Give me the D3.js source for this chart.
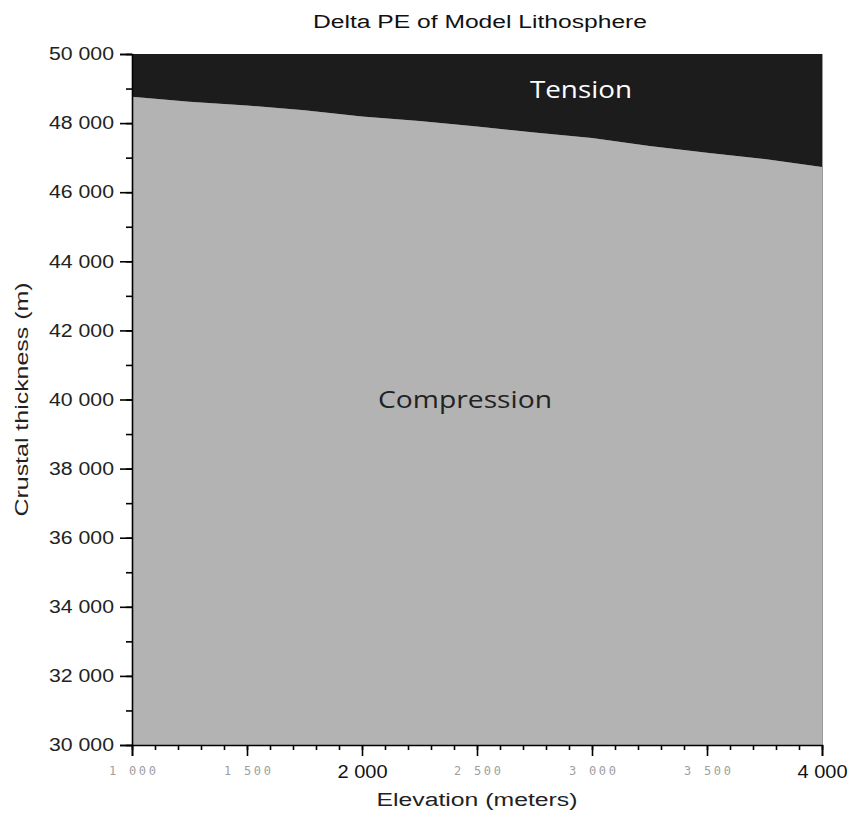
<!DOCTYPE html>
<html><head><meta charset="utf-8">
<script src="https://cdn.jsdelivr.net/npm/d3@7"></script>
<style>body{margin:0;background:#fff}svg{display:block}</style>
</head><body>
<svg id="chart" width="851" height="816"></svg>
<script>
// Data
const elevation = [1000,1250,1500,1750,2000,2250,2500,2750,3000,3250,3500,3750,4000];
const boundaryThickness = [48760,48620,48510,48370,48190,48060,47900,47730,47570,47340,47140,46960,46730];
const yTickValues = [30000,32000,34000,36000,38000,40000,42000,44000,46000,48000,50000];
const xTickValues = [1000,1500,2000,2500,3000,3500,4000];
const xBigTicks = [2000,4000];
const regionLabels = [{text:"Tension", x:2952, y:48730, color:"#ffffff", w:102},{text:"Compression", x:2448, y:39760, color:"#222222", w:174}];

const svg = d3.select("#chart");
const m = {l:132, r:822, t:54, b:745};
const x = d3.scaleLinear().domain([1000,4000]).range([m.l,m.r]);
const y = d3.scaleLinear().domain([30000,50000]).range([m.b,m.t]);
const loc = d3.formatLocale({thousands:"\u00a0", grouping:[3], decimal:".", currency:["",""]});
const fmt = loc.format(",");
const pts = elevation.map((e,i)=>({e, t:boundaryThickness[i]}));
const SANS = "Liberation Sans, Arial, sans-serif";

// Compression area
svg.append("path").datum(pts)
  .attr("fill","#b3b3b3")
  .attr("d", d3.area().x(d=>x(d.e)).y0(y(30000)).y1(d=>y(d.t)));
// Tension area
svg.append("path").datum(pts)
  .attr("fill","#1c1c1c")
  .attr("d", d3.area().x(d=>x(d.e)).y0(y(50000)).y1(d=>y(d.t)));
// right border
svg.append("line").attr("x1",x(4000)+0.5).attr("x2",x(4000)+0.5).attr("y1",y(50000)).attr("y2",y(30000))
  .attr("stroke","#999").attr("stroke-width",1);

// Y axis
const yMinor = svg.append("g").attr("transform",`translate(${m.l},0)`)
  .call(d3.axisLeft(y).tickValues(d3.range(30000,50001,1000)).tickSize(6).tickFormat(""));
yMinor.select(".domain").remove();
const yMajor = svg.append("g").attr("transform",`translate(${m.l},0)`)
  .call(d3.axisLeft(y).tickValues(yTickValues).tickSize(12).tickPadding(6).tickFormat(fmt));
yMajor.selectAll(".tick text").attr("font-family",SANS).attr("font-size",18).attr("fill","#222")
  .attr("textLength",65).attr("lengthAdjust","spacingAndGlyphs");

// X axis
const xMinor = svg.append("g").attr("transform",`translate(0,${m.b})`)
  .call(d3.axisBottom(x).tickValues(d3.range(1000,4001,100)).tickSize(5).tickFormat(""));
xMinor.select(".domain").remove();
const xMajor = svg.append("g").attr("transform",`translate(0,${m.b})`)
  .call(d3.axisBottom(x).tickValues(xTickValues).tickSize(11).tickPadding(9).tickFormat(fmt));
xMajor.selectAll(".tick text").each(function(d){
  const big = xBigTicks.includes(d);
  d3.select(this)
    .attr("font-family", big ? SANS : "DejaVu Sans Mono, monospace")
    .attr("font-size", big ? 18 : 12)
    .attr("fill", big ? "#111" : "#a0a0a0")
    .attr("textLength", big ? 50 : 47)
    .attr("lengthAdjust", big ? "spacingAndGlyphs" : "spacing")
    .attr("dy", big ? "0.71em" : "0.85em");
});
svg.selectAll(".tick line").attr("stroke","#000").attr("stroke-width",1.6);
svg.selectAll(".domain").attr("stroke","#000").attr("stroke-width",1.6);

// Region labels
svg.selectAll("text.region").data(regionLabels).enter().append("text")
  .attr("class","region")
  .attr("x",d=>x(d.x)).attr("y",d=>y(d.y))
  .attr("text-anchor","middle")
  .attr("font-family","Open Sans, sans-serif")
  .attr("font-size",24)
  .attr("textLength",d=>d.w).attr("lengthAdjust","spacingAndGlyphs")
  .attr("fill",d=>d.color)
  .text(d=>d.text);

// Title
svg.append("text").attr("x",480).attr("y",28).attr("text-anchor","middle")
  .attr("font-family",SANS).attr("font-size",18).attr("fill","#111")
  .attr("textLength",334).attr("lengthAdjust","spacingAndGlyphs")
  .text("Delta PE of Model Lithosphere");
// Axis titles
svg.append("text").attr("x",(m.l+m.r)/2).attr("y",806).attr("text-anchor","middle")
  .attr("font-family",SANS).attr("font-size",18).attr("fill","#222")
  .attr("textLength",201).attr("lengthAdjust","spacingAndGlyphs")
  .text("Elevation (meters)");
svg.append("text").attr("transform",`translate(28,${(m.t+m.b)/2}) rotate(-90)`).attr("text-anchor","middle")
  .attr("font-family",SANS).attr("font-size",18).attr("fill","#222")
  .attr("textLength",234).attr("lengthAdjust","spacingAndGlyphs")
  .text("Crustal thickness (m)");
</script>
</body></html>
